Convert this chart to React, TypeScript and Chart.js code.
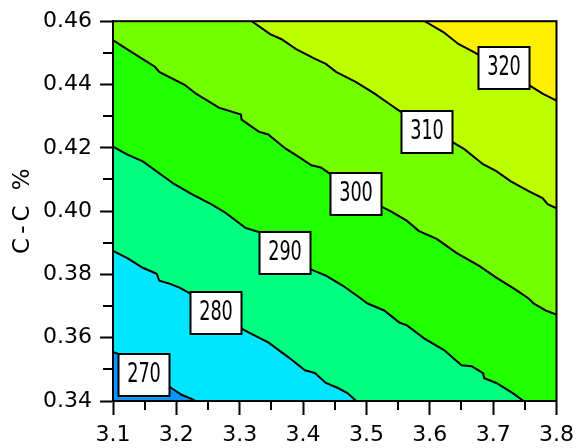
import React, { useEffect, useRef } from 'react';
import { Chart, registerables } from 'chart.js';

Chart.register(...registerables);

// Axis ranges and ticks
const xRange = [3.1, 3.8];
const yRange = [0.34, 0.46];
const xTickValues = [3.1, 3.2, 3.3, 3.4, 3.5, 3.6, 3.7, 3.8];
const xTickLabels = ['3.1', '3.2', '3.3', '3.4', '3.5', '3.6', '3.7', '3.8'];
const xMinorValues = [3.15, 3.25, 3.35, 3.45, 3.55, 3.65, 3.75];
const yTickValues = [0.34, 0.36, 0.38, 0.4, 0.42, 0.44, 0.46];
const yTickLabels = ['0.34', '0.36', '0.38', '0.40', '0.42', '0.44', '0.46'];
const yMinorValues = [0.35, 0.37, 0.39, 0.41, 0.43, 0.45];
const yAxisTitle = 'C-C %';

// Contour levels and the fill colour of each band (below first level ... above last level)
const levels = [270, 280, 290, 300, 310, 320];
const bandColors = ['#0A96FF', '#00E6FF', '#00FF80', '#22FF00', '#73FF00', '#BEFF00', '#FFF000'];

// Contour lines as [x, y] vertices
const line270: [number, number][] = [
  [3.1, 0.3554], [3.106, 0.3551], [3.192, 0.3441], [3.209, 0.3419], [3.225, 0.3406], [3.23, 0.34],
];
const line280: [number, number][] = [
  [3.1, 0.3874], [3.122, 0.3852], [3.147, 0.3821], [3.169, 0.3802], [3.173, 0.378], [3.189, 0.3771],
  [3.205, 0.3758], [3.222, 0.3739], [3.303, 0.3629], [3.314, 0.3617], [3.345, 0.3585], [3.377, 0.3538],
  [3.403, 0.3497], [3.419, 0.3488], [3.436, 0.3457], [3.455, 0.3441], [3.47, 0.3425], [3.484, 0.34],
];
const line290: [number, number][] = [
  [3.1, 0.4204], [3.122, 0.4179], [3.147, 0.4157], [3.197, 0.4085], [3.225, 0.4053], [3.255, 0.4022],
  [3.278, 0.3994], [3.309, 0.3947], [3.33, 0.3934], [3.413, 0.3815], [3.436, 0.3796], [3.463, 0.3764],
  [3.489, 0.3727], [3.502, 0.3708], [3.528, 0.3686], [3.552, 0.3648], [3.564, 0.3639], [3.591, 0.3598],
  [3.623, 0.356], [3.65, 0.3513], [3.666, 0.351], [3.684, 0.3488], [3.686, 0.3472], [3.705, 0.3457],
  [3.731, 0.3425], [3.748, 0.34],
];
const line300: [number, number][] = [
  [3.1, 0.454], [3.122, 0.4512], [3.166, 0.4456], [3.173, 0.444], [3.213, 0.4399], [3.231, 0.4371],
  [3.267, 0.4327], [3.302, 0.4305], [3.303, 0.4289], [3.33, 0.4251], [3.345, 0.4242], [3.372, 0.4198],
  [3.392, 0.4173], [3.413, 0.4145], [3.428, 0.4138], [3.444, 0.4116], [3.522, 0.4016], [3.538, 0.4],
  [3.564, 0.3969], [3.583, 0.3937], [3.611, 0.3912], [3.642, 0.3868], [3.678, 0.3827], [3.705, 0.379],
  [3.733, 0.3755], [3.756, 0.3724], [3.764, 0.3708], [3.783, 0.3686], [3.8, 0.3673],
];
const line310: [number, number][] = [
  [3.319, 0.46], [3.348, 0.4559], [3.366, 0.4543], [3.389, 0.4512], [3.419, 0.4481], [3.436, 0.4465],
  [3.452, 0.444], [3.483, 0.4408], [3.513, 0.4371], [3.538, 0.4336], [3.556, 0.4311], [3.634, 0.422],
  [3.655, 0.4195], [3.684, 0.4148], [3.705, 0.4126], [3.728, 0.4094], [3.756, 0.4063], [3.778, 0.4041],
  [3.786, 0.4022], [3.8, 0.4009],
];
const line320: [number, number][] = [
  [3.592, 0.46], [3.622, 0.4565], [3.645, 0.4528], [3.669, 0.4503], [3.678, 0.4493], [3.756, 0.4399],
  [3.778, 0.4371], [3.8, 0.4349],
];
const contourLines = [line270, line280, line290, line300, line310, line320];

// Where each level's label box sits
const labelAnchors: [number, number][] = [
  [3.149, 0.3483], [3.2625, 0.3678], [3.371, 0.3868], [3.483, 0.4055], [3.595, 0.425], [3.717, 0.4451],
];

type Pt = { x: number; y: number };

// Region lying above/right of a contour line, closed along the plot border
function regionAbove(line: [number, number][]): Pt[] {
  const pts: Pt[] = line.map(([x, y]) => ({ x, y }));
  const first = line[0];
  const last = line[line.length - 1];
  if (last[1] <= yRange[0] + 1e-9) pts.push({ x: xRange[1], y: yRange[0] });
  pts.push({ x: xRange[1], y: yRange[1] });
  if (first[0] <= xRange[0] + 1e-9) pts.push({ x: xRange[0], y: yRange[1] });
  return pts;
}

const fullRect: Pt[] = [
  { x: xRange[0], y: yRange[0] },
  { x: xRange[1], y: yRange[0] },
  { x: xRange[1], y: yRange[1] },
  { x: xRange[0], y: yRange[1] },
];

const overlayPlugin = {
  id: 'contourOverlay',
  afterDatasetsDraw(chart: any) {
    const { ctx, scales } = chart;
    const xs = scales.x;
    const ys = scales.y;
    ctx.save();
    ctx.font = '26px "DejaVu Sans"';
    ctx.textAlign = 'center';
    ctx.textBaseline = 'middle';
    labelAnchors.forEach(([vx, vy], i) => {
      const cx = Math.round(xs.getPixelForValue(vx));
      const cy = Math.round(ys.getPixelForValue(vy));
      const w = 51;
      const h = 42;
      ctx.fillStyle = '#ffffff';
      ctx.fillRect(cx - w / 2, cy - h / 2, w, h);
      ctx.lineWidth = 2;
      ctx.strokeStyle = '#000000';
      ctx.strokeRect(cx - w / 2, cy - h / 2, w, h);
      // narrow, tall label lettering
      ctx.save();
      ctx.translate(cx, cy);
      ctx.scale(0.68, 1);
      ctx.fillStyle = '#000000';
      ctx.fillText(String(levels[i]), 0, 0);
      ctx.restore();
    });
    ctx.restore();
  },
  afterDraw(chart: any) {
    const { ctx, chartArea, scales } = chart;
    const xs = scales.x;
    const ys = scales.y;
    ctx.save();
    ctx.strokeStyle = '#000000';
    ctx.lineWidth = 2;
    ctx.strokeRect(chartArea.left, chartArea.top, chartArea.right - chartArea.left, chartArea.bottom - chartArea.top);
    ctx.beginPath();
    xMinorValues.forEach((v) => {
      const px = Math.round(xs.getPixelForValue(v));
      ctx.moveTo(px, chartArea.bottom);
      ctx.lineTo(px, chartArea.bottom + 9);
    });
    yMinorValues.forEach((v) => {
      const py = Math.round(ys.getPixelForValue(v));
      ctx.moveTo(chartArea.left - 10, py);
      ctx.lineTo(chartArea.left, py);
    });
    ctx.stroke();

    // rotated y-axis title with wide letter spacing
    ctx.save();
    ctx.translate(23, (chartArea.top + chartArea.bottom) / 2);
    ctx.rotate(-Math.PI / 2);
    ctx.font = '23px "DejaVu Sans"';
    (ctx as any).letterSpacing = '4px';
    ctx.textAlign = 'center';
    ctx.textBaseline = 'middle';
    ctx.fillStyle = '#000000';
    ctx.fillText(yAxisTitle, 2, 0);
    ctx.restore();
    ctx.restore();
  },
};

export default function App() {
  const canvasRef = useRef<HTMLCanvasElement | null>(null);

  useEffect(() => {
    const canvas = canvasRef.current;
    if (!canvas) return;

    const fillSets = [
      {
        data: fullRect,
        backgroundColor: bandColors[0],
        fill: 'shape',
        borderWidth: 0,
        pointRadius: 0,
        order: 100,
      },
      ...contourLines.map((line, i) => ({
        data: regionAbove(line),
        backgroundColor: bandColors[i + 1],
        fill: 'shape',
        borderWidth: 0,
        pointRadius: 0,
        order: 99 - i,
      })),
    ];
    const lineSets = contourLines.map((line) => ({
      data: line.map(([x, y]) => ({ x, y })),
      borderColor: '#000000',
      borderWidth: 2,
      fill: false,
      pointRadius: 0,
      order: 0,
    }));

    const tickFont = { family: '"DejaVu Sans"', size: 22 };

    const chart = new Chart(canvas, {
      type: 'line',
      data: { datasets: [...fillSets, ...lineSets] as any },
      options: {
        animation: false,
        responsive: false,
        devicePixelRatio: 1,
        events: [],
        layout: { padding: { left: 0, top: 19, right: 20, bottom: 0 } },
        plugins: { legend: { display: false }, tooltip: { enabled: false } },
        elements: { line: { tension: 0 } },
        scales: {
          x: {
            type: 'linear',
            min: xRange[0],
            max: xRange[1],
            afterBuildTicks: (scale: any) => {
              scale.ticks = xTickValues.map((value) => ({ value }));
            },
            afterFit: (scale: any) => {
              scale.height = 47;
            },
            ticks: {
              callback: (_v: any, i: number) => xTickLabels[i],
              font: tickFont,
              color: '#000000',
              padding: 7,
              maxRotation: 0,
              autoSkip: false,
            },
            grid: {
              drawOnChartArea: false,
              drawTicks: true,
              tickLength: 14,
              tickWidth: 2,
              tickColor: '#000000',
            },
            border: { display: true, color: '#000000', width: 2 },
          },
          y: {
            type: 'linear',
            min: yRange[0],
            max: yRange[1],
            afterBuildTicks: (scale: any) => {
              scale.ticks = yTickValues.map((value) => ({ value }));
            },
            afterFit: (scale: any) => {
              scale.width = 113;
            },
            ticks: {
              callback: (_v: any, i: number) => yTickLabels[i],
              font: tickFont,
              color: '#000000',
              padding: 8,
              autoSkip: false,
            },
            grid: {
              drawOnChartArea: false,
              drawTicks: true,
              tickLength: 13,
              tickWidth: 2,
              tickColor: '#000000',
            },
            border: { display: true, color: '#000000', width: 2 },
          },
        },
      },
      plugins: [overlayPlugin],
    });

    return () => chart.destroy();
  }, []);

  return (
    <div style={{ position: 'fixed', left: 0, top: 0, width: 581, height: 448, background: '#ffffff' }}>
      <canvas ref={canvasRef} width={581} height={448} />
    </div>
  );
}
